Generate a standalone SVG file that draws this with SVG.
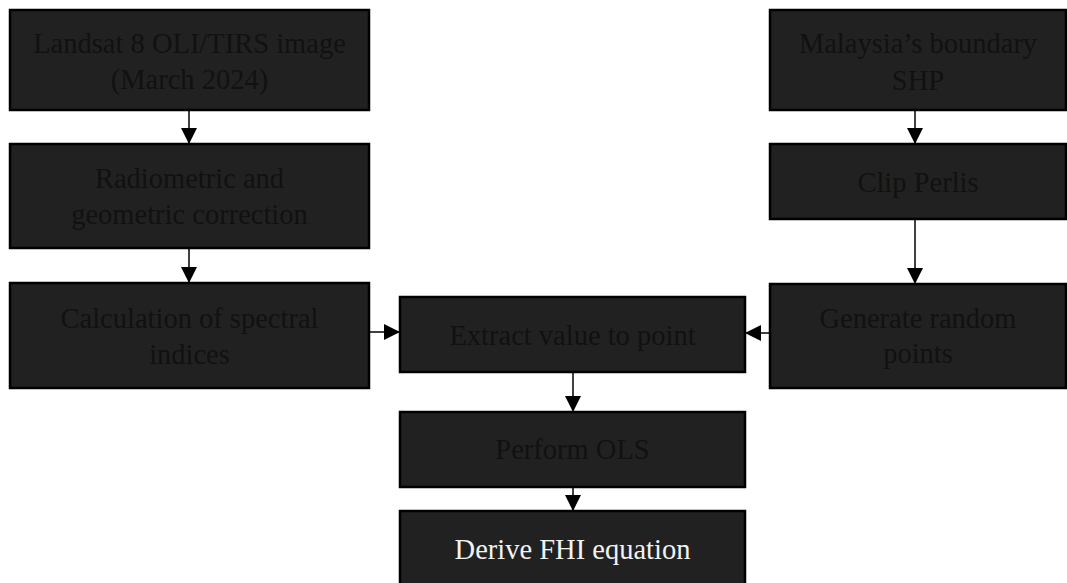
<svg xmlns="http://www.w3.org/2000/svg" width="1067" height="583" viewBox="0 0 1067 583">
<style>
.box{fill:#212121;stroke:#000;stroke-width:2.5}
.t{font-family:"Liberation Serif","DejaVu Serif",serif;font-size:28.5px;fill:#111;text-anchor:middle}
.w{fill:#f2f2f2}
.c{stroke:#000;stroke-width:1.5;fill:none;marker-end:url(#ah)}
</style>
<defs>
<marker id="ah" markerUnits="userSpaceOnUse" markerWidth="16" markerHeight="16" viewBox="0 0 16 16" refX="16" refY="8" orient="auto">
<path d="M0,0 L16,8 L0,16 Z" fill="#000"/>
</marker>
</defs>
<rect width="1067" height="583" fill="#fff"/>
<g id="connectors">
<line class="c" x1="189" y1="110" x2="189" y2="144"/>
<line class="c" x1="189" y1="248" x2="189" y2="283"/>
<line class="c" x1="915" y1="110" x2="915" y2="144"/>
<line class="c" x1="915" y1="219" x2="915" y2="284"/>
<line class="c" x1="369" y1="332" x2="400" y2="332"/>
<line class="c" x1="770" y1="333" x2="745" y2="333"/>
<line class="c" x1="573" y1="372" x2="573" y2="412"/>
<line class="c" x1="573" y1="487" x2="573" y2="511"/>
</g>
<g id="landsat"><rect class="box" x="10" y="10" width="359" height="100"/>
<text class="t" x="189.5" y="53">Landsat 8 OLI/TIRS image</text><text class="t" x="189.5" y="89">(March 2024)</text></g>
<g id="radiometric"><rect class="box" x="10" y="144" width="359" height="104"/>
<text class="t" x="189.5" y="188">Radiometric and</text><text class="t" x="189.5" y="224">geometric correction</text></g>
<g id="calculation"><rect class="box" x="10" y="283" width="359" height="105"/>
<text class="t" x="189.5" y="328">Calculation of spectral</text><text class="t" x="189.5" y="364">indices</text></g>
<g id="malaysia"><rect class="box" x="770" y="10" width="296" height="100"/>
<text class="t" x="918" y="53">Malaysia’s boundary</text><text class="t" x="918" y="90">SHP</text></g>
<g id="clip"><rect class="box" x="770" y="144" width="296" height="75"/>
<text class="t" x="918" y="192">Clip Perlis</text></g>
<g id="generate"><rect class="box" x="770" y="284" width="296" height="104"/>
<text class="t" x="918" y="328">Generate random</text><text class="t" x="918" y="363">points</text></g>
<g id="extract"><rect class="box" x="400" y="297" width="345" height="75"/>
<text class="t" x="572.5" y="345">Extract value to point</text></g>
<g id="ols"><rect class="box" x="400" y="412" width="345" height="75"/>
<text class="t" x="572.5" y="459">Perform OLS</text></g>
<g id="derive"><rect class="box" x="400" y="511" width="345" height="80"/>
<text class="t w" x="572.5" y="559">Derive FHI equation</text></g>
</svg>
